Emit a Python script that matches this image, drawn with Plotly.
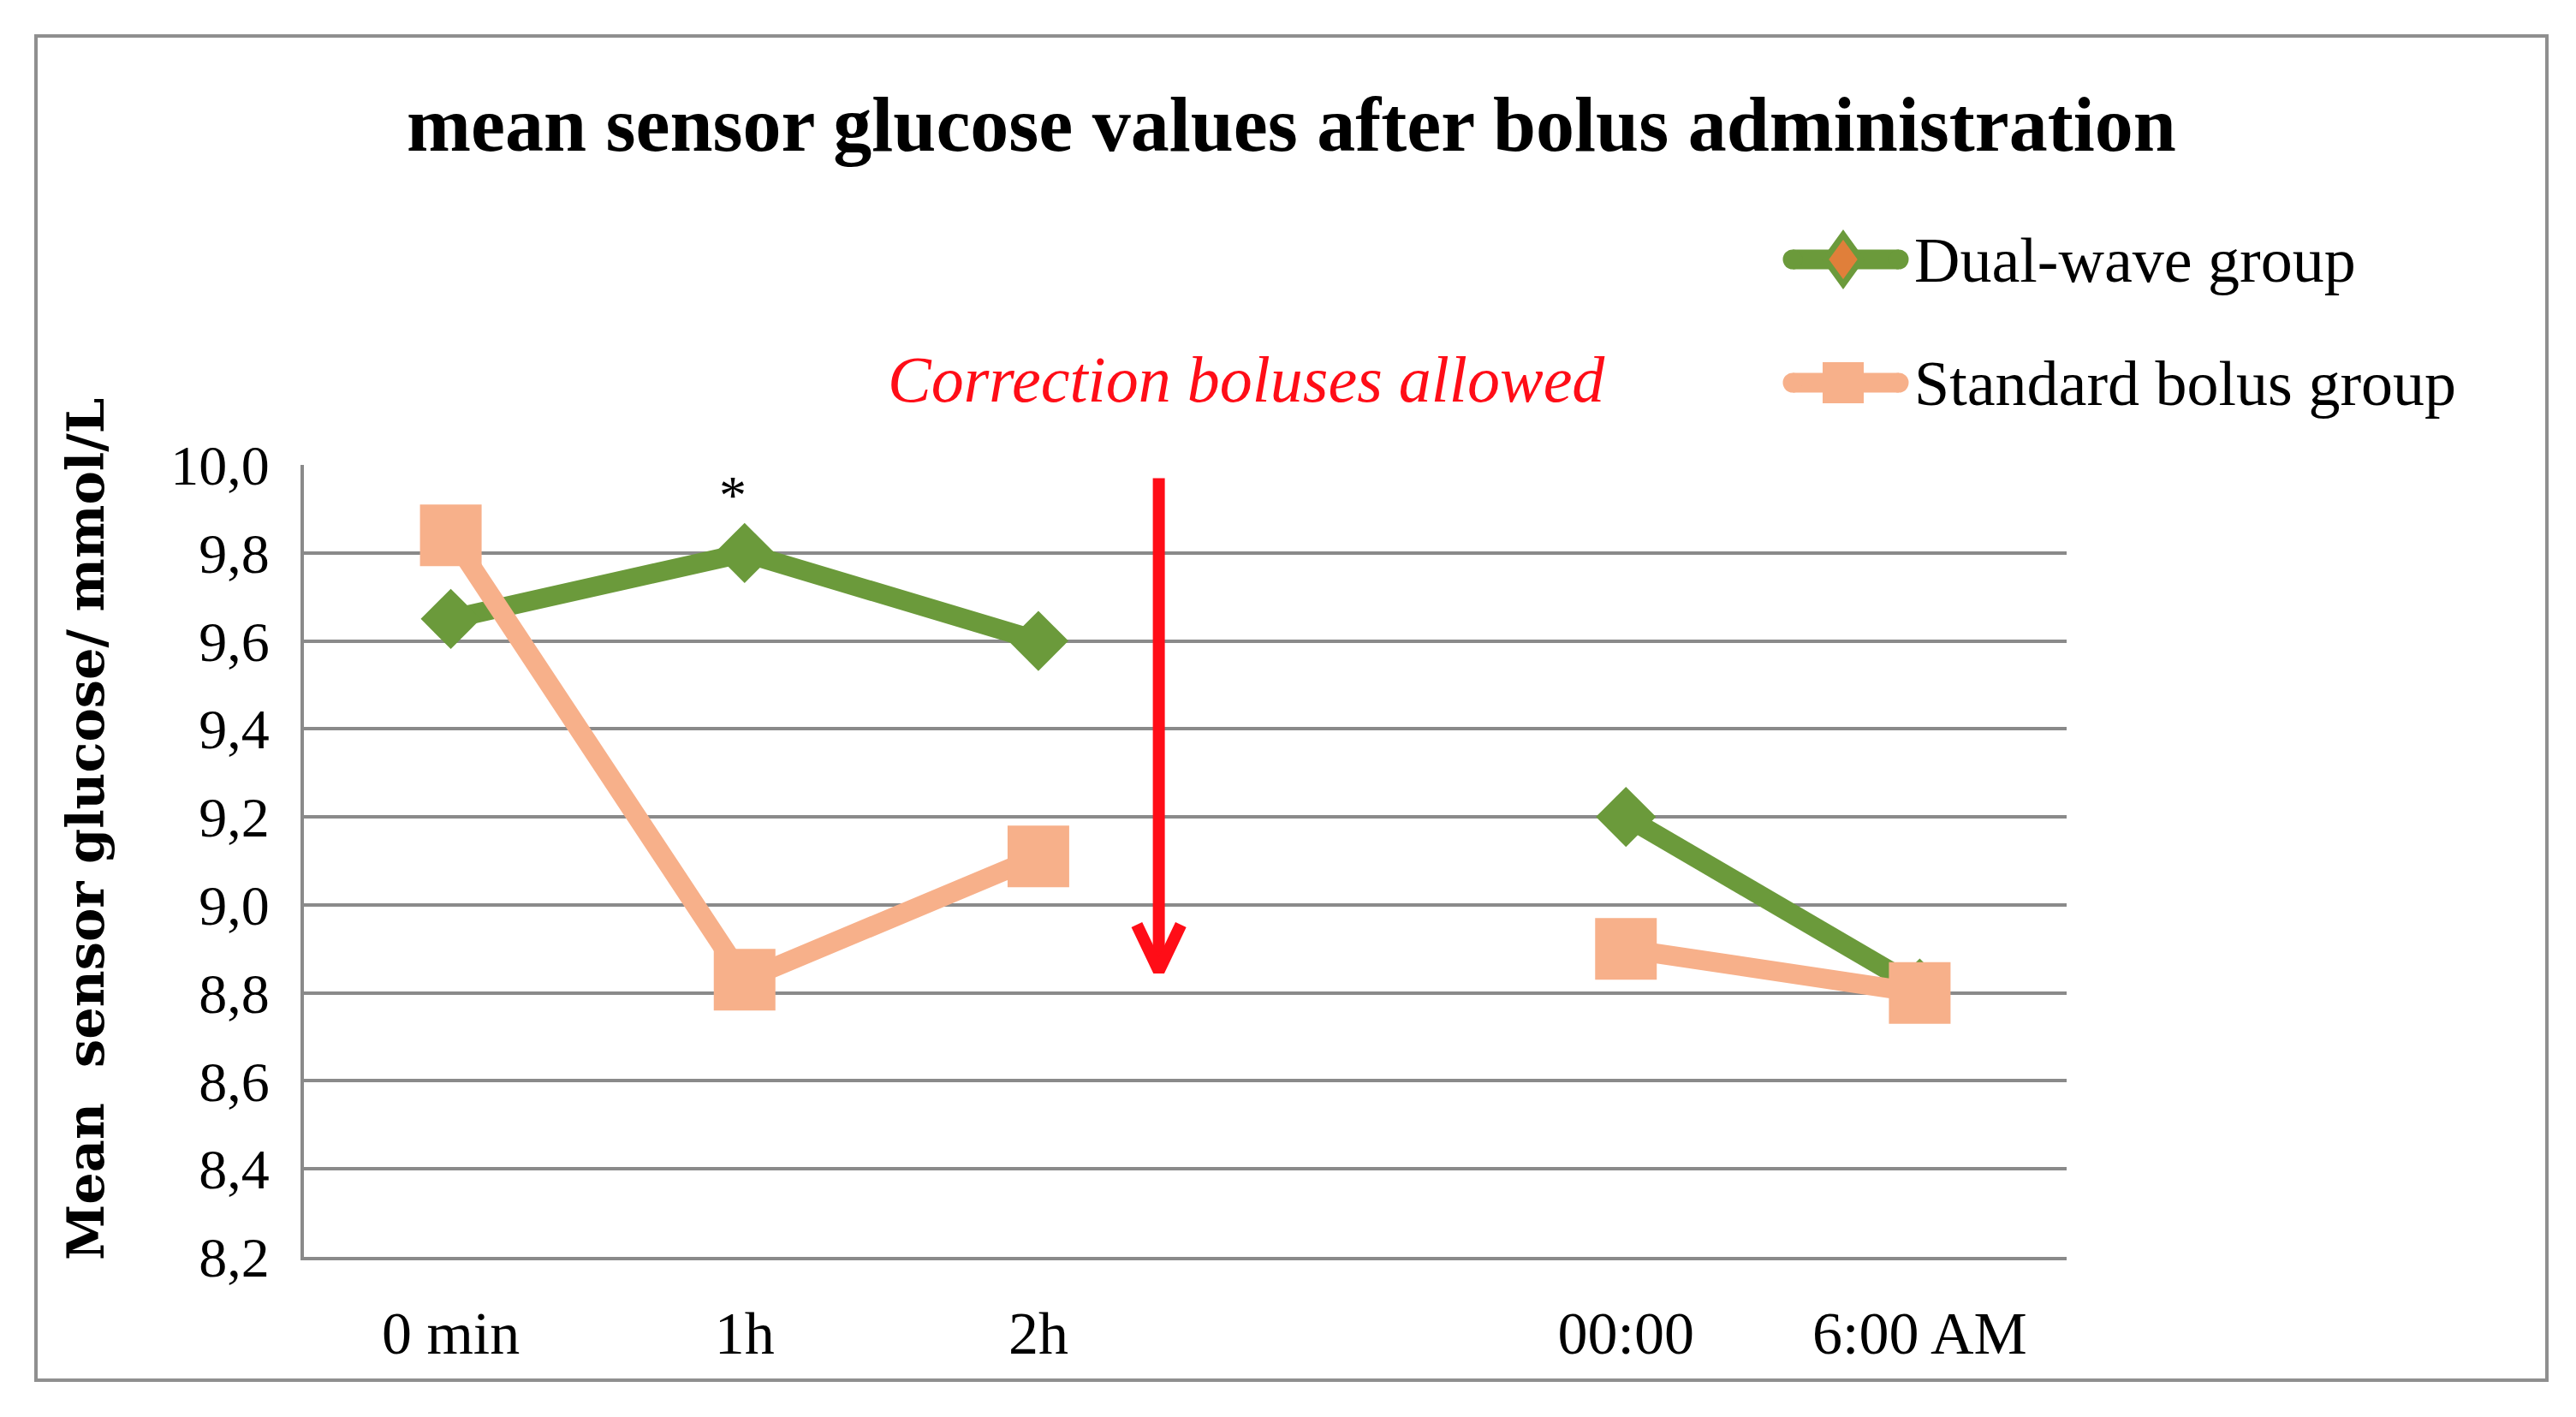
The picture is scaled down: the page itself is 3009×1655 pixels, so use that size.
import plotly.graph_objects as go

# values (mmol/L)
categories = ["0 min", "1h", "2h", "", "00:00", "6:00 AM"]
dual_wave = [9.65, 9.80, 9.60, None, 9.20, 8.81]
standard_bolus = [9.84, 8.83, 9.11, None, 8.90, 8.80]
y_ticks = [8.2, 8.4, 8.6, 8.8, 9.0, 9.2, 9.4, 9.6, 9.8, 10.0]

# arrow marking the point where correction boluses were allowed
arrow_x = 2.41
arrow_top = 9.97
arrow_tip = 8.85

GREEN = "#6b9a3b"
PEACH = "#f7b08a"
RED = "#ff0d17"
GRID = "#8a8a8a"
FONT = "Liberation Serif"

W, H = 3009, 1655
L, R, T, B = 355, 2414, 543, 1468
PAGE = 8  # body margin of the html page


def px(x):
    # pixel column -> paper x
    return (x - L) / (R - L)


def py(y):
    # pixel row -> paper y
    return (B - y) / (B - T)


xs = list(range(len(categories)))

fig = go.Figure()
fig.add_trace(go.Scatter(
    x=xs, y=dual_wave, mode="lines+markers", name="Dual-wave group",
    line=dict(color=GREEN, width=23),
    marker=dict(symbol="diamond", size=54, color=GREEN),
    showlegend=False,
))
fig.add_trace(go.Scatter(
    x=xs, y=standard_bolus, mode="lines+markers", name="Standard bolus group",
    line=dict(color=PEACH, width=23),
    marker=dict(symbol="square", size=72, color=PEACH),
    showlegend=False,
))

# red arrow: shaft and open head
fig.add_trace(go.Scatter(
    x=[arrow_x, arrow_x], y=[arrow_top, arrow_tip], mode="lines",
    line=dict(color=RED, width=14), hoverinfo="skip", showlegend=False,
))
fig.add_trace(go.Scatter(
    x=[arrow_x - 0.075, arrow_x, arrow_x + 0.075],
    y=[arrow_tip + 0.105, arrow_tip, arrow_tip + 0.105], mode="lines",
    line=dict(color=RED, width=14), hoverinfo="skip", showlegend=False,
))

shapes = [
    # outer frame
    dict(type="rect", xref="paper", yref="paper",
         x0=px(42), x1=px(2975), y0=py(1612), y1=py(42),
         line=dict(color="#8f8f8f", width=4), layer="below"),
]

# hand-made legend (plotly caps legend symbol sizes)
legend_rows = [
    ("Dual-wave group", GREEN, "diamond", 303),
    ("Standard bolus group", PEACH, "square", 447),
]
annotations = []
for label, color, symbol, row in legend_rows:
    shapes.append(dict(type="line", xref="paper", yref="paper",
                       x0=px(2094), x1=px(2218), y0=py(row), y1=py(row),
                       line=dict(color=color, width=23)))
    for cx in (2094, 2218):
        shapes.append(dict(type="circle", xref="paper", yref="paper",
                           xsizemode="pixel", ysizemode="pixel",
                           xanchor=px(cx), yanchor=py(row),
                           x0=-11.5, x1=11.5, y0=-11.5, y1=11.5,
                           fillcolor=color, line=dict(width=0)))
    if symbol == "diamond":
        path = "M 0,29 L 21,0 L 0,-29 L -21,0 Z"
        shapes.append(dict(type="path", xref="paper", yref="paper",
                           xsizemode="pixel", ysizemode="pixel",
                           xanchor=px(2153), yanchor=py(row), path=path,
                           fillcolor="#e07f3a", line=dict(color=GREEN, width=7)))
    else:
        path = "M -24,24 L 24,24 L 24,-24 L -24,-24 Z"
        shapes.append(dict(type="path", xref="paper", yref="paper",
                           xsizemode="pixel", ysizemode="pixel",
                           xanchor=px(2153), yanchor=py(row), path=path,
                           fillcolor=color, line=dict(width=0)))
    annotations.append(dict(
        text=label, xref="paper", yref="paper", x=px(2234), y=py(row + 1),
        xanchor="left", yanchor="middle", showarrow=False,
        font=dict(family=FONT, size=74, color="black"),
    ))

annotations += [
    dict(text="mean sensor glucose values after bolus administration",
         xref="paper", yref="paper", x=px(1508), y=py(146),
         xanchor="center", yanchor="middle", showarrow=False,
         font=dict(family=FONT, size=90, color="black", weight="bold")),
    dict(text="Correction boluses allowed",
         xref="paper", yref="paper", x=px(1456), y=py(443),
         xanchor="center", yanchor="middle", showarrow=False,
         font=dict(family=FONT, size=76, color=RED, style="italic")),
    dict(text="Mean\u00a0 sensor glucose/ mmol/L",
         xref="paper", yref="paper", x=px(100), y=py(969), textangle=-90,
         xanchor="center", yanchor="middle", showarrow=False,
         font=dict(family="DejaVu Serif", size=59, color="black", weight="bold")),
    dict(text="*", xref="x", yref="y", x=0.96, y=9.93,
         xanchor="center", yanchor="middle", showarrow=False,
         font=dict(family=FONT, size=64, color="black")),
]

fig.update_layout(
    width=W - 2 * PAGE, height=H - 2 * PAGE,
    margin=dict(l=L - PAGE, r=W - R - PAGE, t=T - PAGE, b=H - B - PAGE,
                autoexpand=False),
    paper_bgcolor="white", plot_bgcolor="white",
    separators=", ",
    shapes=shapes,
    annotations=annotations,
    showlegend=False,
    xaxis=dict(
        range=[-0.5, len(categories) - 0.5],
        tickvals=xs, ticktext=categories,
        showgrid=False, zeroline=False,
        showline=True, linecolor=GRID, linewidth=4,
        ticks="", ticklabelstandoff=25,
        tickfont=dict(family=FONT, size=70, color="black"),
    ),
    yaxis=dict(
        range=[8.2, 10.0], tickvals=y_ticks, tickformat=".1f",
        showgrid=True, gridcolor=GRID, gridwidth=4, zeroline=False,
        showline=True, linecolor=GRID, linewidth=4,
        ticks="", ticklabelstandoff=23,
        tickfont=dict(family=FONT, size=66, color="black"),
    ),
)

fig.write_html("out.html")
